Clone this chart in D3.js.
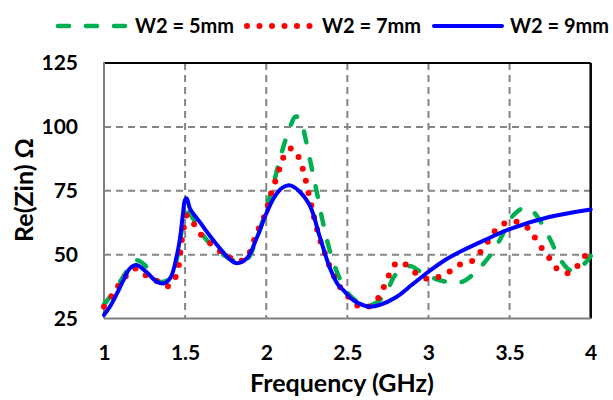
<!DOCTYPE html>
<html>
<head>
<meta charset="utf-8">
<script src="https://cdn.jsdelivr.net/npm/d3@7"></script>
<style>
  html, body { margin: 0; padding: 0; background: #fff; }
  svg { display: block; }
  text { font-family: Lato, "Open Sans", sans-serif; font-weight: 700; fill: #000; }
</style>
</head>
<body>
<svg id="chart" width="613" height="400"></svg>
<script>
// Frequency axis ticks and Re(Zin) ticks
const xTicks = [1, 1.5, 2, 2.5, 3, 3.5, 4];
const yTicks = [25, 50, 75, 100, 125];

// W2 = 5 mm
const freq5 = [1.0, 1.05, 1.1, 1.15, 1.2, 1.25, 1.3, 1.35, 1.4, 1.44, 1.47, 1.5, 1.52, 1.55, 1.6, 1.65, 1.7, 1.76, 1.82, 1.88, 1.94, 2.0, 2.05, 2.1, 2.15, 2.18, 2.21, 2.24, 2.28, 2.31, 2.35, 2.39, 2.45, 2.5, 2.58, 2.64, 2.7, 2.75, 2.79, 2.84, 2.89, 2.95, 3.02, 3.1, 3.2, 3.28, 3.34, 3.4, 3.45, 3.5, 3.55, 3.6, 3.65, 3.7, 3.75, 3.8, 3.85, 3.88, 3.92, 3.97, 4.0];
const re5   = [30.5, 34.5, 39.5, 44.5, 47.8, 46, 41.5, 39.3, 40.5, 46, 56, 65.5, 66.5, 64, 58.5, 54.5, 51.5, 49, 47.3, 48, 56, 68, 79, 91, 100.5, 104, 103, 96, 84, 75, 62.5, 52, 41, 35, 31, 30.2, 32.2, 36.5, 41.6, 44.3, 45.5, 43.3, 41.1, 39.5, 39.2, 42.5, 46.5, 51.5, 57, 63.5, 67, 68.5, 66.5, 62, 56, 49.5, 45, 43.8, 44.3, 47, 49.5];

// W2 = 7 mm
const freq7 = [1.0, 1.05, 1.1, 1.15, 1.2, 1.27, 1.34, 1.4, 1.45, 1.47, 1.49, 1.51, 1.54, 1.58, 1.63, 1.69, 1.76, 1.82, 1.88, 1.94, 1.97, 2.0, 2.02, 2.044, 2.07, 2.095, 2.12, 2.15, 2.178, 2.21, 2.233, 2.25, 2.266, 2.284, 2.3, 2.32, 2.342, 2.37, 2.4, 2.435, 2.475, 2.527, 2.58, 2.62, 2.65, 2.7, 2.73, 2.76, 2.8, 2.83, 2.87, 2.93, 3.0, 3.075, 3.14, 3.2, 3.28, 3.325, 3.37, 3.415, 3.475, 3.55, 3.62, 3.66, 3.7, 3.75, 3.795, 3.86, 3.92, 3.965, 4.0];
const re7   = [29.6, 34, 38.9, 42.5, 44.6, 41.3, 39.3, 37.7, 42.7, 51, 60, 65.4, 63.5, 59, 56, 52.4, 49.5, 47.2, 49, 58.3, 62.4, 67, 72, 76.5, 81.4, 85.9, 90.2, 91.5, 91, 86.3, 82, 77.1, 72.6, 67.6, 63.2, 58.3, 53.7, 49.1, 43.9, 39.4, 35.5, 32.2, 29.3, 29.4, 30.5, 33.8, 38.1, 42.4, 46.6, 47.2, 45.6, 42.4, 40.5, 41.6, 43.7, 46.3, 47.9, 51.5, 55.4, 59.6, 62.4, 62.8, 60, 56.3, 52.4, 48.2, 44.3, 42.7, 45.6, 49.5, 53.7];

// W2 = 9 mm
const freq9 = [1.0, 1.04, 1.08, 1.12, 1.16, 1.2, 1.26, 1.325, 1.366, 1.41, 1.45, 1.47, 1.485, 1.5, 1.51, 1.53, 1.59, 1.65, 1.715, 1.78, 1.82, 1.88, 1.94, 2.0, 2.05, 2.1, 2.147, 2.2, 2.27, 2.33, 2.39, 2.44, 2.475, 2.52, 2.56, 2.64, 2.7, 2.8, 2.9, 3.0, 3.1, 3.2, 3.35, 3.5, 3.75, 4.0];
const re9   = [26.4, 30, 34.8, 40, 44.6, 45.9, 43.3, 39.4, 38.7, 41, 50, 57, 65, 71.5, 72, 68, 62.8, 57.6, 52.4, 47.9, 46.6, 48.5, 56.3, 66, 72.5, 76.2, 77.1, 75, 69, 57, 45.2, 38.5, 36.1, 33, 31.2, 29.6, 30.3, 33.3, 38.3, 43.3, 47.8, 51.3, 55.8, 60, 64.8, 67.7];

const legendLabels = ["W2 = 5mm", "W2 = 7mm", "W2 = 9mm"];

const svg = d3.select("#chart");
const plotLeft = 104, plotRight = 590.7, plotTop = 63, plotBottom = 318.5;

const x = d3.scaleLinear().domain([1, 4]).range([plotLeft, plotRight]);
const y = d3.scaleLinear().domain([25, 125]).range([plotBottom, plotTop]);

// dashed grid
const grid = svg.append("g");
grid.selectAll("line.gx")
  .data(xTicks.filter(t => t > 1 && t < 4))
  .join("line")
  .attr("x1", d => x(d)).attr("x2", d => x(d))
  .attr("y1", plotTop).attr("y2", plotBottom)
  .attr("stroke", "#858585").attr("stroke-width", 2)
  .attr("stroke-dasharray", "7 5");
grid.selectAll("line.gy")
  .data(yTicks.filter(t => t > 25 && t < 125))
  .join("line")
  .attr("x1", plotLeft).attr("x2", plotRight)
  .attr("y1", d => y(d)).attr("y2", d => y(d))
  .attr("stroke", "#858585").attr("stroke-width", 2)
  .attr("stroke-dasharray", "7 5");

// frame: black top and right, grey left and bottom
svg.append("line").attr("x1", plotLeft).attr("x2", plotRight).attr("y1", plotTop).attr("y2", plotTop)
  .attr("stroke", "#000").attr("stroke-width", 2);
svg.append("line").attr("x1", plotRight).attr("x2", plotRight).attr("y1", plotTop).attr("y2", plotBottom)
  .attr("stroke", "#000").attr("stroke-width", 2.5);

// axes (labels only, lines drawn separately)
const xAxis = svg.append("g")
  .attr("transform", `translate(0,${plotBottom})`)
  .call(d3.axisBottom(x).tickValues(xTicks).tickSize(0).tickPadding(27)
    .tickFormat(d => String(d)));
const yAxis = svg.append("g")
  .attr("transform", `translate(${plotLeft},0)`)
  .call(d3.axisLeft(y).tickValues(yTicks).tickSize(0).tickPadding(26));
[xAxis, yAxis].forEach(g => {
  g.select(".domain").remove();
  g.selectAll("text").style("font-family", "Lato, sans-serif").style("font-weight", 700)
    .style("font-size", "21px").attr("fill", "#000");
});
xAxis.selectAll("text").attr("dy", "0.71em");

svg.append("line").attr("x1", plotLeft).attr("x2", plotLeft).attr("y1", plotTop - 1).attr("y2", plotBottom)
  .attr("stroke", "#7f7f7f").attr("stroke-width", 2);
svg.append("line").attr("x1", plotLeft).attr("x2", plotRight).attr("y1", plotBottom).attr("y2", plotBottom)
  .attr("stroke", "#7f7f7f").attr("stroke-width", 2);

// series
const line = d3.line().x(d => x(d[0])).y(d => y(d[1])).curve(d3.curveCatmullRom.alpha(0.5));
const zip = (fs, vs) => fs.map((f, i) => [f, vs[i]]);

const series = [
  { data: zip(freq5, re5), color: "#00B050", width: 4.5, dash: "11 17", cap: "round" },
  { data: zip(freq7, re7), color: "#FF0000", width: 6, dash: "0 12.5", cap: "round" },
  { data: zip(freq9, re9), color: "#0000FF", width: 4, dash: null, cap: "round" }
];

svg.append("clipPath").attr("id", "plotClip")
  .append("rect").attr("x", plotLeft - 3).attr("y", plotTop - 3)
  .attr("width", plotRight - plotLeft + 6).attr("height", plotBottom - plotTop + 6);

const plot = svg.append("g").attr("clip-path", "url(#plotClip)");
series.forEach(s => {
  plot.append("path")
    .attr("d", line(s.data))
    .attr("fill", "none")
    .attr("stroke", s.color)
    .attr("stroke-width", s.width)
    .attr("stroke-linecap", s.cap)
    .attr("stroke-linejoin", "round")
    .attr("stroke-dasharray", s.dash);
});

// legend
const legendItems = [
  { x0: 58, x1: 127, tx: 135 },
  { x0: 247, x1: 311, tx: 322 },
  { x0: 434, x1: 502, tx: 510 }
];
const lg = svg.append("g");
legendItems.forEach((it, i) => {
  const s = series[i];
  lg.append("line")
    .attr("x1", it.x0).attr("x2", it.x1).attr("y1", 26).attr("y2", 26)
    .attr("stroke", s.color).attr("stroke-width", s.width)
    .attr("stroke-linecap", s.cap).attr("stroke-dasharray", s.dash);
  lg.append("text").attr("x", it.tx).attr("y", 33)
    .style("font-size", "20px").text(legendLabels[i]);
});

// axis titles
svg.append("text")
  .attr("x", 342).attr("y", 392)
  .attr("text-anchor", "middle")
  .style("font-size", "25px")
  .text("Frequency (GHz)");
svg.append("text")
  .attr("transform", `translate(33,190) rotate(-90)`)
  .attr("text-anchor", "middle")
  .style("font-size", "25px")
  .text("Re(Zin) Ω");
</script>
</body>
</html>
